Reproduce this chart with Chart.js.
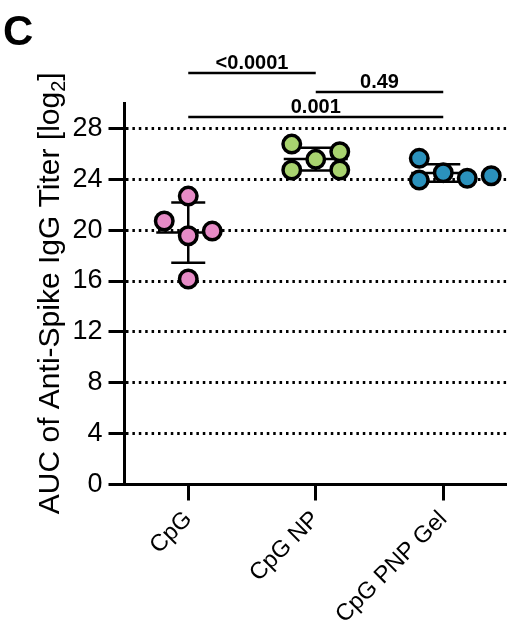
<!DOCTYPE html>
<html>
<head>
<meta charset="utf-8">
<script src="https://cdn.jsdelivr.net/npm/chart.js"></script>
<style>
	html, body { margin: 0; padding: 0; background: #fff; }
	#wrap { width: 507px; height: 632px; }
</style>
</head>
<body>
<div id="wrap"><canvas id="myChart" width="507" height="632"></canvas></div>
<script>
// data (log2 titers, one value per animal)
var categories = ["CpG", "CpG NP", "CpG PNP Gel"];
var cpgValues = [19.56, 20.72, 19.93, 22.68, 16.16];
var npValues = [25.57, 26.77, 26.17, 24.73, 24.73];
var gelValues = [24.52, 23.94, 24.08, 24.28, 25.65];
var groupColors = ["#e68bc6", "#a9d36f", "#2b91bc"];
var yTicks = [0, 4, 8, 12, 16, 20, 24, 28];

// pairwise p values drawn above the groups
var compFrom = [0, 1, 0];
var compTo = [1, 2, 2];
var compLabels = ["<0.0001", "0.49", "0.001"];

var groups = [cpgValues, npValues, gelValues];
var FONT = "'Liberation Sans', Arial, sans-serif";

// bracket heights in axis units, mean/sd bar widths in px
var bracketLevels = [32.36, 30.86, 28.9];
var MEAN_HALF = 32, CAP_HALF = 17;
var STEP = 24, MIN_GAP = 17;

function mean(arr) {
	var s = 0;
	for (var i = 0; i < arr.length; i++) s += arr[i];
	return s / arr.length;
}
function sd(arr) {
	var m = mean(arr), s = 0;
	for (var i = 0; i < arr.length; i++) s += (arr[i] - m) * (arr[i] - m);
	return Math.sqrt(s / (arr.length - 1));
}

function line(ctx, x1, y1, x2, y2) {
	ctx.beginPath();
	ctx.moveTo(x1, y1);
	ctx.lineTo(x2, y2);
	ctx.stroke();
}

// mean +/- SD drawn behind the dots
var errorBars = {
	id: "errorBars",
	beforeDatasetsDraw: function (chart) {
		var ctx = chart.ctx, xs = chart.scales.x, ys = chart.scales.y;
		ctx.save();
		ctx.strokeStyle = "#000";
		ctx.lineWidth = 2.5;
		for (var i = 0; i < groups.length; i++) {
			var m = mean(groups[i]), d = sd(groups[i]);
			var cx = xs.getPixelForValue(i);
			var ym = ys.getPixelForValue(m), yt = ys.getPixelForValue(m + d), yb = ys.getPixelForValue(m - d);
			line(ctx, cx, yt, cx, yb);
			line(ctx, cx - MEAN_HALF, ym, cx + MEAN_HALF, ym);
			line(ctx, cx - CAP_HALF, yt, cx + CAP_HALF, yt);
			line(ctx, cx - CAP_HALF, yb, cx + CAP_HALF, yb);
		}
		ctx.restore();
	}
};

// significance brackets, axis title and panel letter
var decorations = {
	id: "decorations",
	afterDraw: function (chart) {
		var ctx = chart.ctx, xs = chart.scales.x, ys = chart.scales.y;
		ctx.save();
		ctx.strokeStyle = "#000";
		ctx.fillStyle = "#000";
		ctx.lineWidth = 2.5;
		ctx.font = "bold 20px " + FONT;
		ctx.textAlign = "center";
		ctx.textBaseline = "alphabetic";
		for (var i = 0; i < compLabels.length; i++) {
			var x1 = xs.getPixelForValue(compFrom[i]), x2 = xs.getPixelForValue(compTo[i]);
			var y = ys.getPixelForValue(bracketLevels[i]);
			line(ctx, x1, y, x2, y);
			ctx.fillText(compLabels[i], (x1 + x2) / 2, y - 4);
		}

		// y axis title with subscript 2
		var main = "AUC of Anti-Spike IgG Titer [log", sub = "2", end = "]";
		ctx.font = "30px " + FONT;
		var wMain = ctx.measureText(main).width, wEnd = ctx.measureText(end).width;
		ctx.font = "20px " + FONT;
		var wSub = ctx.measureText(sub).width;
		var total = wMain + wSub + wEnd;
		ctx.translate(59, (chart.chartArea.top + chart.chartArea.bottom) / 2 - 0.5);
		ctx.rotate(-Math.PI / 2);
		ctx.textAlign = "left";
		ctx.font = "30px " + FONT;
		ctx.fillText(main, -total / 2, 0);
		ctx.font = "20px " + FONT;
		ctx.fillText(sub, -total / 2 + wMain, 6);
		ctx.font = "30px " + FONT;
		ctx.fillText(end, -total / 2 + wMain + wSub, 0);
		ctx.restore();

		ctx.save();
		ctx.fillStyle = "#000";
		ctx.font = "bold 42px " + FONT;
		ctx.textAlign = "left";
		ctx.fillText("C", 3, 45);
		ctx.restore();
	}
};

var datasets = groups.map(function (vals, gi) {
	return {
		label: categories[gi],
		data: vals.map(function (v) { return { x: gi, y: v }; }),
		backgroundColor: groupColors[gi],
		borderColor: "#000",
		borderWidth: 3.5,
		pointRadius: 8.75,
		pointHoverRadius: 8.75,
		showLine: false
	};
});

var chart = new Chart(document.getElementById("myChart").getContext("2d"), {
	type: "scatter",
	data: { datasets: datasets },
	options: {
		responsive: false,
		animation: false,
		layout: { autoPadding: false, padding: { top: 103, left: 0, right: 0, bottom: 0 } },
		plugins: { legend: { display: false }, tooltip: { enabled: false } },
		scales: {
			x: {
				type: "linear",
				min: -0.5,
				max: 2.5,
				afterBuildTicks: function (s) {
					s.ticks = categories.map(function (c, i) { return { value: i }; });
				},
				afterFit: function (s) {
					s.height = 147.5;
					s.paddingLeft = 0;
					s.paddingRight = 0;
				},
				ticks: {
					autoSkip: false,
					minRotation: 45,
					maxRotation: 45,
					color: "#000",
					padding: 5,
					font: { family: FONT, size: 23.5 },
					callback: function (v) { return categories[v]; }
				},
				grid: { drawOnChartArea: false, drawTicks: true, tickLength: 16, tickWidth: 3, tickColor: "#000" },
				border: { display: true, color: "#000", width: 3 }
			},
			y: {
				min: 0,
				max: 30,
				afterBuildTicks: function (s) {
					s.ticks = yTicks.map(function (v) { return { value: v }; });
				},
				afterFit: function (s) {
					s.width = 124.5;
					s.paddingTop = 0;
					s.paddingBottom = 0;
				},
				ticks: { color: "#000", padding: 6, font: { family: FONT, size: 27 } },
				grid: {
					color: function (c) { return c.tick && c.tick.value === 0 ? "rgba(0,0,0,0)" : "#000"; },
					lineWidth: 3,
					tickLength: 16,
					tickWidth: 3,
					tickColor: "#000",
					tickBorderDash: []
				},
				border: { display: true, color: "#000", width: 3, dash: [2.5, 3.9] }
			}
		}
	},
	plugins: [errorBars, decorations]
});

// spread overlapping dots sideways (simple beeswarm in pixel space)
var xs = chart.scales.x, ys = chart.scales.y;
var unit = xs.getPixelForValue(1) - xs.getPixelForValue(0);
var order = [0, -1, 1, 2, -2, 3, -3];
chart.data.datasets.forEach(function (ds, gi) {
	var placed = [];
	ds.data.forEach(function (p) {
		var py = ys.getPixelForValue(p.y);
		for (var k = 0; k < order.length; k++) {
			var px = order[k] * STEP;
			var ok = placed.every(function (q) { return Math.hypot(q.px - px, q.py - py) >= MIN_GAP; });
			if (ok) {
				placed.push({ px: px, py: py });
				p.x = gi + px / unit;
				break;
			}
		}
	});
});
chart.update("none");
</script>
</body>
</html>
